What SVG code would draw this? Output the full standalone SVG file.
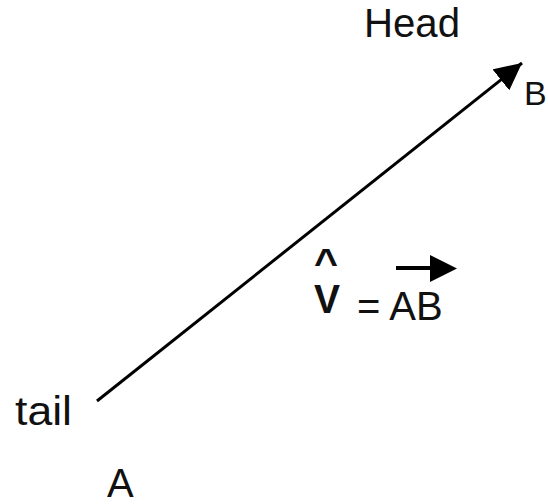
<svg xmlns="http://www.w3.org/2000/svg" width="548" height="504" viewBox="0 0 548 504">
<style>
text{font-family:"Liberation Sans",Arial,sans-serif;fill:#111;}
.lbl{font-size:40px;}
.ln{stroke:#000;stroke-width:3;fill:none;}
</style>
<defs>
<marker id="ah" viewBox="0 0 10 10" refX="10" refY="5" markerWidth="9" markerHeight="9" markerUnits="strokeWidth" orient="auto">
<path d="M0,0 L10,5 L0,10 z" fill="#000"/>
</marker>
</defs>
<rect width="548" height="504" fill="#fff"/>
<g id="connectors">
<line class="ln" x1="97" y1="401" x2="522" y2="63" marker-end="url(#ah)"/>
<line x1="396" y1="268" x2="432" y2="268" stroke="#000" stroke-width="4"/>
<path d="M430,255 L457,268.5 L430,282 z" fill="#000"/>
</g>
<g id="head"><text class="lbl" x="364" y="37" textLength="96" lengthAdjust="spacingAndGlyphs">Head</text></g>
<g id="B"><text x="524" y="105" font-size="34">B</text></g>
<g id="tail"><text class="lbl" x="15" y="425" textLength="57" lengthAdjust="spacingAndGlyphs">tail</text></g>
<g id="A"><text class="lbl" x="107" y="497">A</text></g>
<g id="eq">
<text x="314" y="276" font-size="38" font-weight="bold" textLength="24" lengthAdjust="spacingAndGlyphs">^</text>
<text x="314" y="313" font-size="40" font-weight="bold" textLength="26" lengthAdjust="spacingAndGlyphs">V</text>
<text x="357" y="320" font-size="40">= AB</text>
</g>
</svg>
